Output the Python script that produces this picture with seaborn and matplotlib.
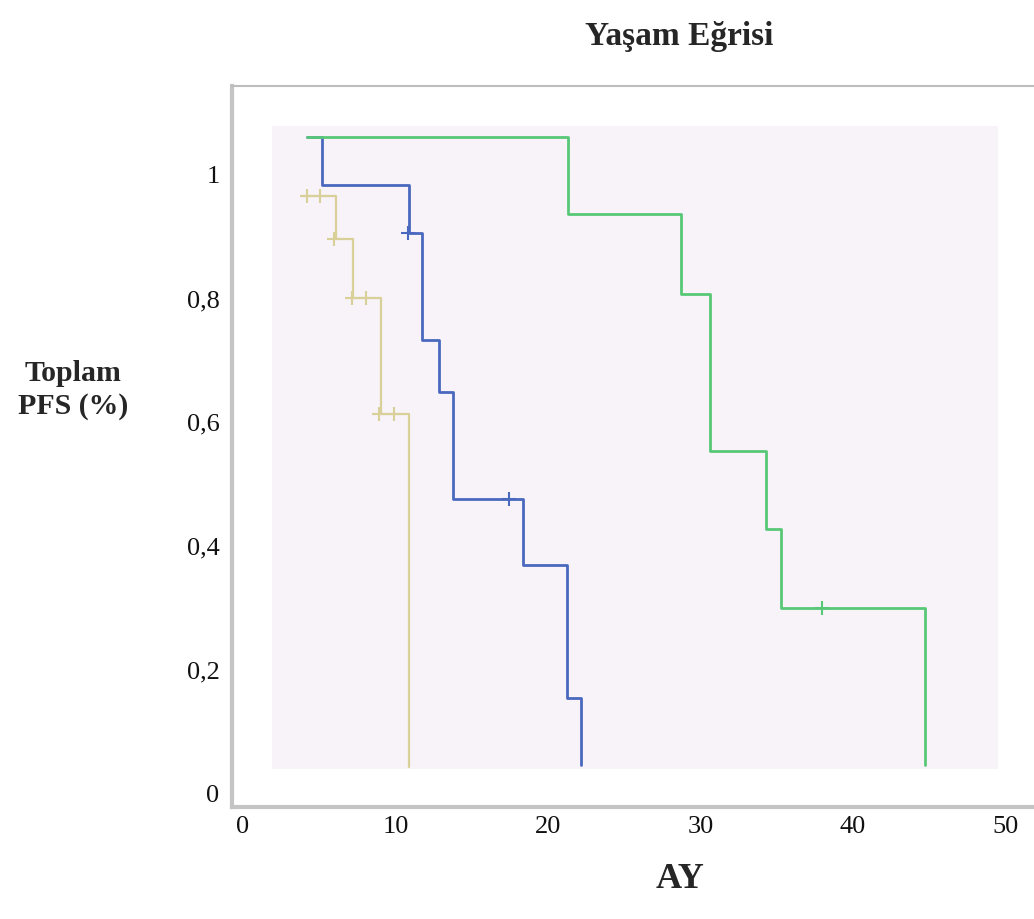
import pandas as pd
import numpy as np
import matplotlib
matplotlib.use("Agg")
import matplotlib.pyplot as plt
import seaborn as sns

# Step curves (time in months, survival fraction)
green_t = [4.2, 21.3, 28.7, 30.6, 34.3, 35.3, 44.7]
green_s = [1.060, 0.935, 0.806, 0.552, 0.426, 0.298, 0.044]
blue_t = [4.2, 5.2, 10.9, 11.76, 12.87, 13.75, 18.38, 21.27, 22.2]
blue_s = [1.060, 0.982, 0.905, 0.732, 0.647, 0.474, 0.367, 0.152, 0.044]
tan_t = [3.85, 6.1, 7.23, 9.05, 10.9]
tan_s = [0.964, 0.894, 0.799, 0.612, 0.040]

# Censored observations ("+" marks)
green_cens_t = [38.0]
green_cens_s = [0.298]
blue_cens_t = [10.8, 17.46]
blue_cens_s = [0.905, 0.474]
tan_cens_t = [4.2, 5.05, 6.0, 7.13, 8.07, 8.94, 9.92]
tan_cens_s = [0.964, 0.964, 0.894, 0.799, 0.799, 0.612, 0.612]

x_ticks = [0, 10, 20, 30, 40, 50]
y_ticks = [0, 0.2, 0.4, 0.6, 0.8, 1.0]
y_ticklabels = ["0", "0,2", "0,4", "0,6", "0,8", "1"]

colors = {"tan": "#d9cf98", "blue": "#4a68bd", "green": "#58c878"}

curves = pd.concat([
    pd.DataFrame({"t": tan_t, "s": tan_s, "grp": "tan"}),
    pd.DataFrame({"t": blue_t, "s": blue_s, "grp": "blue"}),
    pd.DataFrame({"t": green_t, "s": green_s, "grp": "green"}),
], ignore_index=True)
cens = pd.concat([
    pd.DataFrame({"t": tan_cens_t, "s": tan_cens_s, "grp": "tan"}),
    pd.DataFrame({"t": blue_cens_t, "s": blue_cens_s, "grp": "blue"}),
    pd.DataFrame({"t": green_cens_t, "s": green_cens_s, "grp": "green"}),
], ignore_index=True)

sns.set_style("white")
plt.rcParams['font.family'] = ['Liberation Serif', 'DejaVu Serif']

fig = plt.figure(figsize=(10.34, 9.2), dpi=100)
ax = fig.add_axes([232 / 1034, 1 - 808 / 920, (1045 - 232) / 1034, (808 - 87) / 920])

# light plot area inside the frame
ax.add_patch(plt.Rectangle((1.9, 0.037), 47.6, 1.041, color="#f7f3f8", zorder=0, lw=0))

for grp in ["tan", "blue", "green"]:
    d = curves[curves.grp == grp]
    lw = 1.6 if grp == "tan" else 2.0
    sns.lineplot(data=d, x="t", y="s", color=colors[grp], drawstyle="steps-post",
                 estimator=None, sort=False, lw=lw, ax=ax, legend=False)
    c = cens[cens.grp == grp]
    sns.scatterplot(data=c, x="t", y="s", color=colors[grp], marker="+", s=110,
                    linewidth=1.5, ax=ax, legend=False, zorder=5)

ax.set_xlim(-0.72, 52.6)
ax.set_ylim(-0.024, 1.142)
ax.set_xticks(x_ticks)
ax.set_xticklabels([str(v) for v in x_ticks])
ax.set_yticks(y_ticks)
ax.set_yticklabels(y_ticklabels)
ax.tick_params(axis="both", length=0, labelsize=19, colors="#111111")
ax.tick_params(axis="y", pad=9)
ax.tick_params(axis="x", pad=6)
ax.set_xlabel("")
ax.set_ylabel("")

for side in ["left", "bottom"]:
    ax.spines[side].set_color("#c4c4c4")
    ax.spines[side].set_linewidth(3)
ax.spines["top"].set_color("#bdbdbd")
ax.spines["top"].set_linewidth(1.5)
ax.spines["right"].set_visible(False)

fig.text(679 / 1034, 1 - 36 / 920, "Yaşam Eğrisi", ha="center", va="center",
         fontsize=24, fontweight="bold")
fig.text(73 / 1034, 1 - 390 / 920, "Toplam\nPFS (%)", ha="center", va="center",
         fontsize=21.5, fontweight="bold", linespacing=1.3)
fig.text(680 / 1034, 1 - 880 / 920, "AY", ha="center", va="center",
         fontsize=26, fontweight="bold")

fig.savefig("out.png", dpi=100)
